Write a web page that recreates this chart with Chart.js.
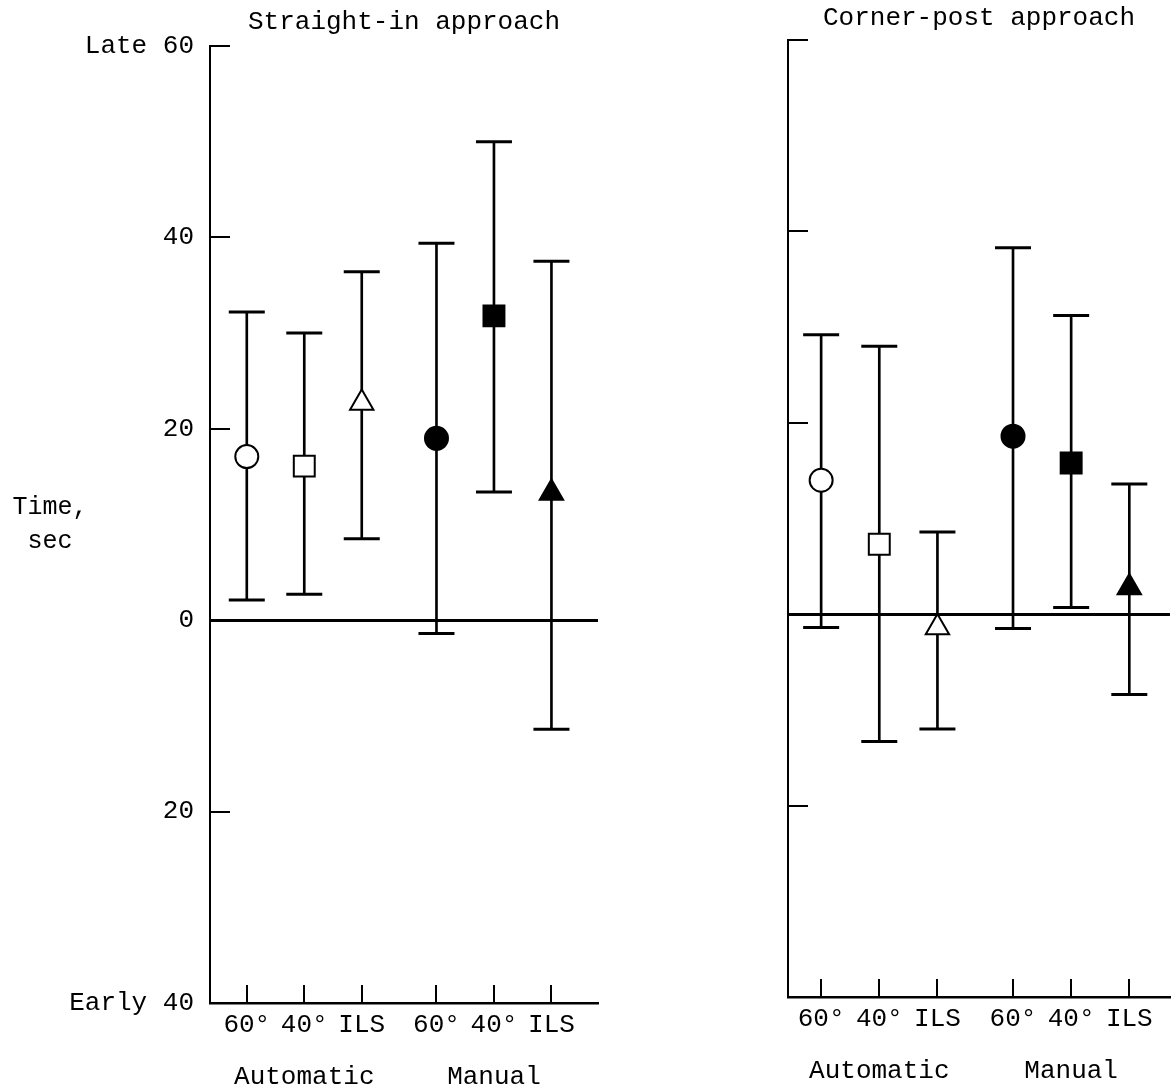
<!DOCTYPE html>
<html>
<head>
<meta charset="utf-8">
<script src="https://cdn.jsdelivr.net/npm/chart.js@4.4.0/dist/chart.umd.min.js"></script>
<style>
html, body { margin: 0; padding: 0; background: #fff; }
#wrap { position: relative; width: 1175px; height: 1090px; overflow: hidden; background: #fff; }
canvas { position: absolute; top: 0; }
#c1 { left: 0; }
#c2 { left: 600px; }
</style>
</head>
<body>
<div id="wrap">
  <canvas id="c1" width="600" height="1090"></canvas>
  <canvas id="c2" width="575" height="1090"></canvas>
</div>
<script>
// ---------------- data ----------------
const groups = ['Automatic', 'Manual'];
const categories = ['60°', '40°', 'ILS', '60°', '40°', 'ILS'];
const categoryGroup = [0, 0, 0, 1, 1, 1];
const yTickValues = [60, 40, 20, 0, -20, -40];
const yTickLabels = ['Late 60', '40', '20', '0', '20', 'Early 40'];
const yAxisTitle = ['Time,', 'sec'];
const panelTitles = ['Straight-in approach', 'Corner-post approach'];

const straightMean = [17.1, 16.1, 22.7, 19.0, 31.8, 13.3];
const straightHigh = [32.2, 30.0, 36.4, 39.4, 50.0, 37.5];
const straightLow  = [2.1, 2.7, 8.5, -1.4, 13.4, -11.4];

const cornerMean = [14.0, 7.3, -1.4, 18.6, 15.8, 2.8];
const cornerHigh = [29.2, 28.0, 8.6, 38.3, 31.2, 13.6];
const cornerLow  = [-1.4, -13.3, -12.0, -1.5, 0.7, -8.4];

// ---------------- styles ----------------
const FONT = '"Liberation Mono", "Courier New", monospace';
const GROUP_GAP = 0.3;
const markerShapes = ['circle', 'rect', 'triangle', 'circle', 'rect', 'triangle'];
const markerFill   = ['#fff', '#fff', '#fff', '#000', '#000', '#000'];
const markerRadius = [11.5, 14.8, 13.5, 11.5, 14.8, 13.5];

const xPositions = categories.map((c, i) => i + categoryGroup[i] * GROUP_GAP);
const tickLines = categories.map((c, i) => {
  const g = categoryGroup[i];
  const members = categoryGroup.map((gg, k) => gg === g ? k : -1).filter(k => k >= 0);
  const mid = members[Math.floor(members.length / 2)];
  return i === mid ? [c, '', groups[g]] : c;
});

function makePanel(canvasId, title, mean, low, high, L) {
  const decor = {
    id: 'decor',
    afterDraw(chart) {
      const { ctx, chartArea: a, scales: { x, y } } = chart;
      ctx.save();
      ctx.strokeStyle = '#000';
      ctx.lineWidth = 2;
      ctx.beginPath();
      yTickValues.forEach(v => {
        const py = Math.round(y.getPixelForValue(v));
        ctx.moveTo(a.left, py); ctx.lineTo(a.left + 20, py);
      });
      xPositions.forEach(v => {
        const px = Math.round(x.getPixelForValue(v));
        ctx.moveTo(px, a.bottom); ctx.lineTo(px, a.bottom - 18);
      });
      ctx.stroke();
      ctx.fillStyle = '#000';
      ctx.font = '26px ' + FONT;
      ctx.textAlign = 'center';
      ctx.textBaseline = 'middle';
      ctx.fillText(title, (a.left + a.right) / 2, L.titleY);
      if (L.showYTitle) {
        ctx.font = '25px ' + FONT;
        yAxisTitle.forEach((t, k) => ctx.fillText(t, L.yTitleX, L.yTitleY + k * 34));
      }
      ctx.restore();
    }
  };

  return new Chart(document.getElementById(canvasId), {
    type: 'scatter',
    data: {
      datasets: [
        {
          type: 'scatter',
          data: xPositions.map((x, i) => ({ x: x, y: mean[i] })),
          pointStyle: markerShapes,
          pointRadius: markerRadius,
          backgroundColor: markerFill,
          borderColor: '#000',
          borderWidth: 2,
          order: 0
        },
        {
          type: 'scatter',
          data: xPositions.map((x, i) => ({ x: x, y: low[i] }))
            .concat(xPositions.map((x, i) => ({ x: x, y: high[i] }))),
          pointStyle: 'line',
          pointRadius: 18,
          borderColor: '#000',
          borderWidth: 3,
          order: 1
        },
        {
          type: 'bar',
          data: xPositions.map((x, i) => ({ x: x, y: [low[i], high[i]] })),
          barThickness: 2,
          backgroundColor: '#000',
          borderWidth: 0,
          order: 2
        }
      ]
    },
    options: {
      responsive: false,
      animation: false,
      events: [],
      devicePixelRatio: 1,
      layout: { autoPadding: false, padding: { top: L.padTop, right: L.padRight, left: 0, bottom: 0 } },
      plugins: { legend: { display: false }, tooltip: { enabled: false }, title: { display: false } },
      scales: {
        x: {
          type: 'linear',
          min: L.xMin,
          max: L.xMax,
          offset: false,
          afterBuildTicks: s => { s.ticks = xPositions.map(v => ({ value: v })); },
          afterFit: s => { s.height = L.xAxisHeight; s.paddingLeft = 0; s.paddingRight = 0; },
          grid: { display: true, drawOnChartArea: false, drawTicks: false },
          border: { display: true, color: '#000', width: 2.5 },
          ticks: {
            color: '#000',
            font: { family: FONT, size: 26, lineHeight: 1.0 },
            padding: 9,
            maxRotation: 0,
            autoSkip: false,
            callback: (v, idx) => tickLines[idx]
          }
        },
        y: {
          type: 'linear',
          min: -40,
          max: 60,
          afterBuildTicks: s => { s.ticks = yTickValues.map(v => ({ value: v })); },
          afterFit: s => { s.width = L.yAxisWidth; },
          grid: {
            display: true,
            drawTicks: false,
            color: c => (c.tick && c.tick.value === 0) ? '#000' : 'rgba(0,0,0,0)',
            lineWidth: c => (c.tick && c.tick.value === 0) ? 3 : 1
          },
          border: { display: true, color: '#000', width: 2 },
          ticks: {
            display: L.showYLabels,
            color: '#000',
            font: { family: FONT, size: 26 },
            padding: 16,
            callback: v => yTickLabels[yTickValues.indexOf(v)]
          }
        }
      }
    },
    plugins: [decor]
  });
}

makePanel('c1', panelTitles[0], straightMean, straightLow, straightHigh, {
  padTop: 46, padRight: 2, yAxisWidth: 210, xAxisHeight: 87,
  xMin: -0.64, xMax: 6.11, titleY: 22, showYLabels: true,
  showYTitle: true, yTitleX: 50, yTitleY: 507
});
makePanel('c2', panelTitles[1], cornerMean, cornerLow, cornerHigh, {
  padTop: 40, padRight: 5, yAxisWidth: 188, xAxisHeight: 93,
  xMin: -0.57, xMax: 6.0, titleY: 18, showYLabels: false,
  showYTitle: false
});
</script>
</body>
</html>
